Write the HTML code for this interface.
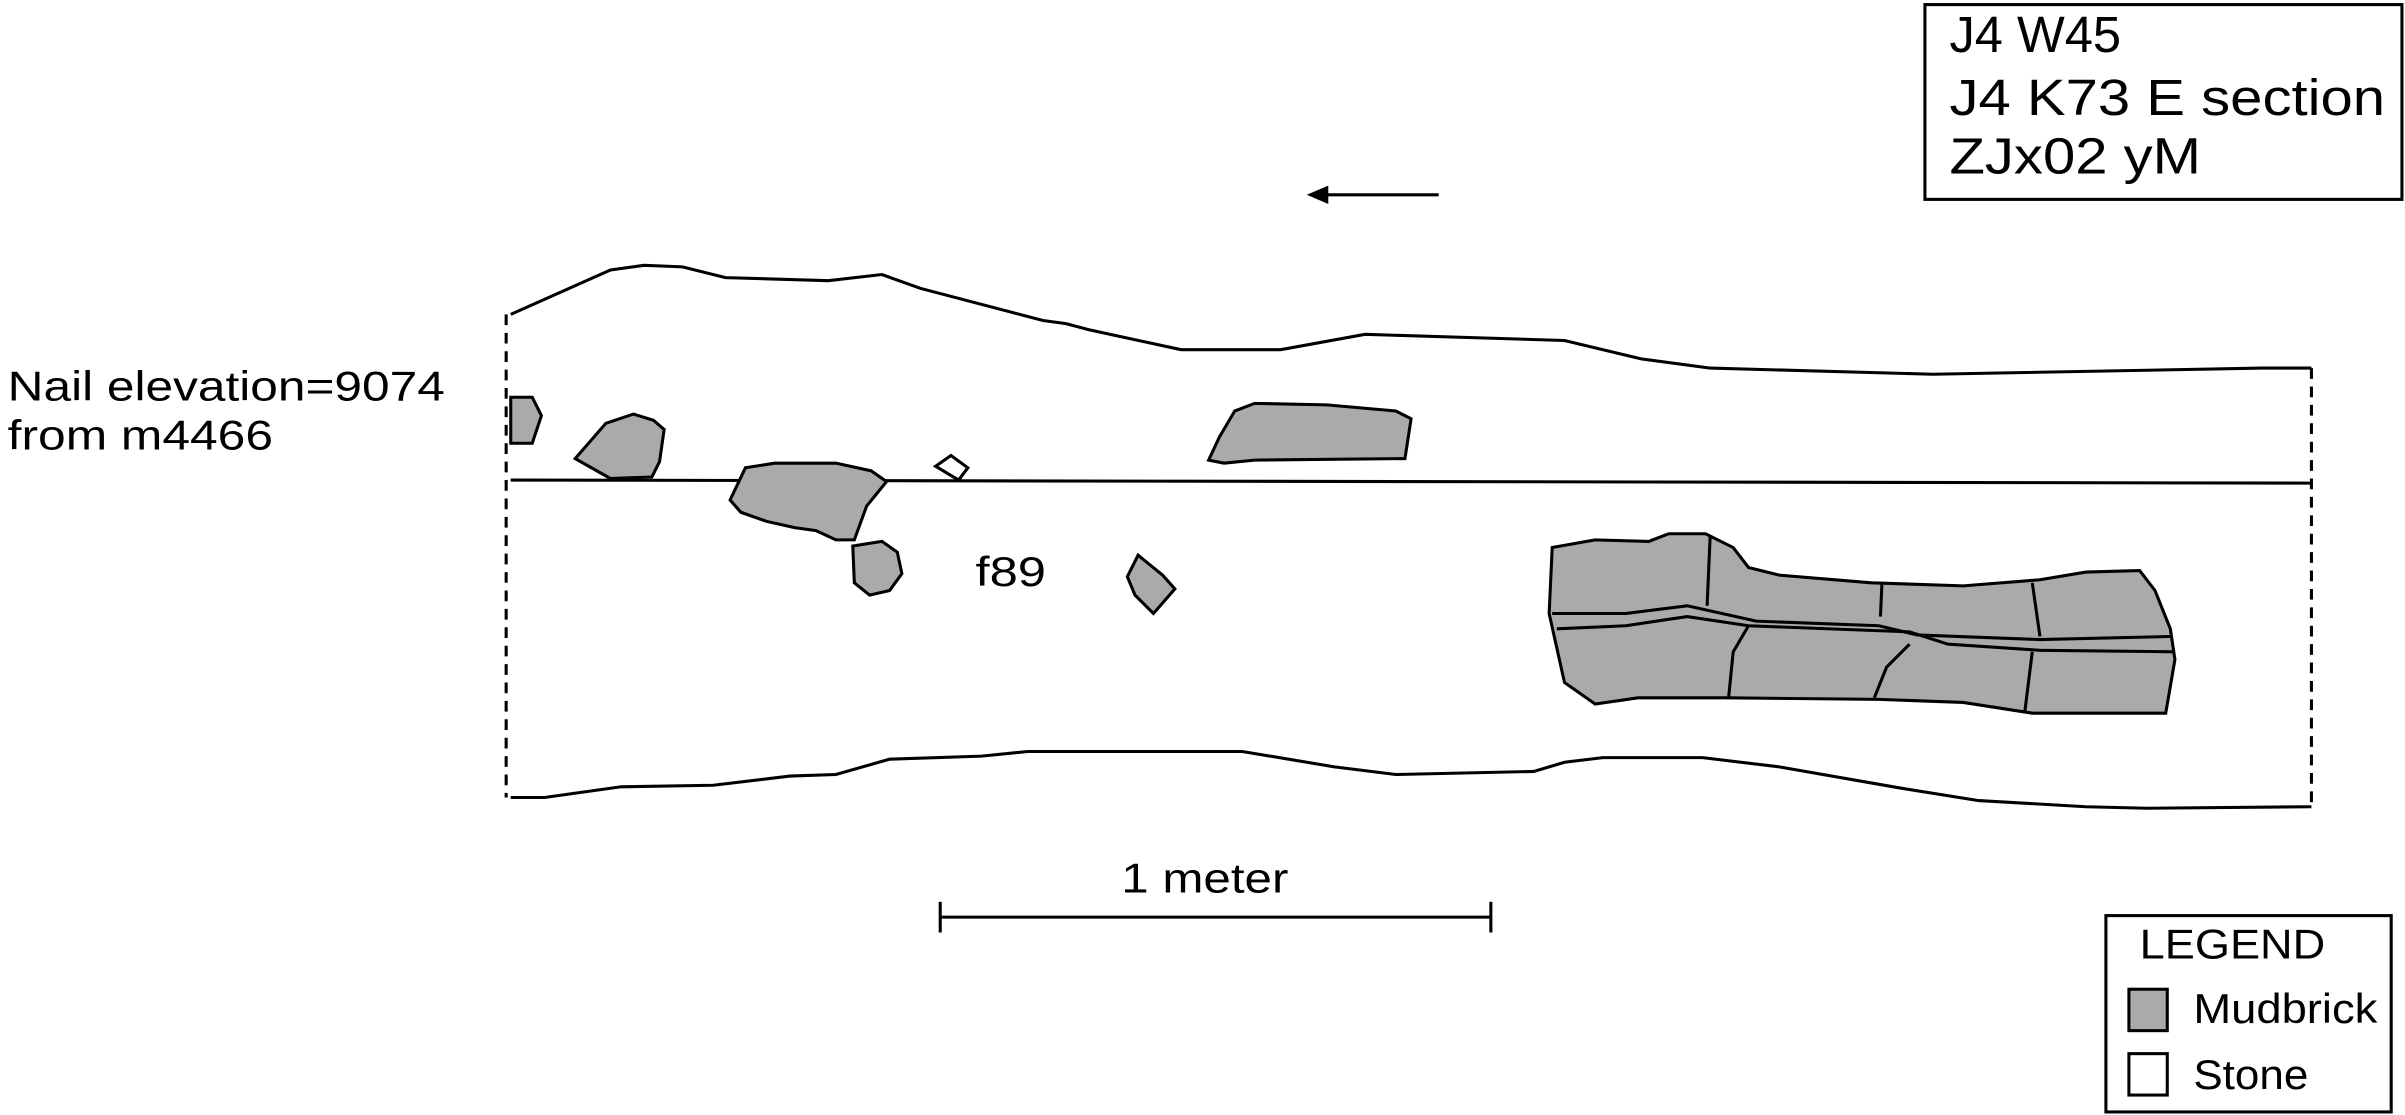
<!DOCTYPE html>
<html><head><style>html,body{margin:0;padding:0;background:#fff}svg{display:block}</style></head>
<body>
<svg width="2405" height="1115" viewBox="0 0 1568 727" preserveAspectRatio="none" xmlns="http://www.w3.org/2000/svg" font-family="Liberation Sans, sans-serif">
<g fill="none" stroke="#000" stroke-width="2">
<polyline points="333,205 398,176 420,173 445,174 473,181 540,183 575,179 600,188 680,209 695,211 710,215 770,228 835,228 890,218 1020,222 1070,234 1115,240 1260,244 1475,240 1507,240"/>
<polyline points="333,520 355,520 405,513 465,512 515,506 545,505 580,495 640,493 670,490 810,490 870,500 910,505 1000,503 1020,497 1045,494 1110,494 1160,500 1240,514 1290,522 1360,526 1400,527 1507,526"/>
<line x1="333" y1="313" x2="1507" y2="315"/>
<line x1="330" y1="205" x2="330" y2="520" stroke-dasharray="7,5"/>
<line x1="1507" y1="240" x2="1507" y2="526" stroke-dasharray="7,5"/>
</g>
<g fill="#aaa" stroke="#000" stroke-width="2">
<polygon points="333,259 347,259 353,271 347,289 333,289"/>
<polygon points="375,299 395,276 413,270 426,274 433,280 430,301 425,311 398,312"/>
<polygon points="476,326 486,305 505,302 545,302 568,307 578,314 565,330 557,352 545,352 532,346 518,344 500,340 483,334"/>
<polygon points="556,356 575,353 585,360 588,374 580,385 567,388 557,380"/>
<polygon points="735,376 742,362 758,375 766,384 752,400 740,388"/>
<polygon points="795,285 805,268 818,263 865,264 910,268 920,273 916,299 818,300 798,302 788,300"/>
<polygon points="1012,357 1040,352 1075,353 1088,348 1112,348 1130,357 1140,370 1160,375 1220,380 1280,382 1330,378 1360,373 1395,372 1405,385 1415,410 1418,430 1412,465 1325,465 1280,458 1225,456 1125,455 1068,455 1040,459 1020,445 1010,400"/>
</g>
<polygon points="610,304 620,297 631,305 625,313" fill="#fff" stroke="#000" stroke-width="2"/>
<g fill="none" stroke="#000" stroke-width="2">
<polyline points="1012,400 1060,400 1100,395 1145,405 1225,408 1250,414 1330,417 1415,415"/>
<polyline points="1015,410 1060,408 1100,402 1140,408 1245,412 1270,420 1330,424 1418,425"/>
<line x1="1115" y1="349" x2="1113" y2="395"/>
<polyline points="1127,455 1130,425 1140,408"/>
<line x1="1227" y1="380" x2="1226" y2="402"/>
<line x1="1325" y1="380" x2="1330" y2="415"/>
<polyline points="1222,455 1230,435 1245,420"/>
<line x1="1320" y1="465" x2="1325" y2="425"/>
<line x1="938" y1="127" x2="862" y2="127"/>
<line x1="613" y1="598" x2="972" y2="598"/>
<line x1="613" y1="588" x2="613" y2="608"/>
<line x1="972" y1="588" x2="972" y2="608"/>
<rect x="1255" y="3" width="311" height="127"/>
<rect x="1373" y="597" width="186" height="128"/>
</g>
<polygon points="852,127 866,121 866,133" fill="#000"/>
<g font-size="33" fill="#000">
<text x="1271" y="34">J4 W45</text>
<text x="1271" y="75" textLength="284" lengthAdjust="spacingAndGlyphs">J4 K73 E section</text>
<text x="1271" y="113" textLength="164" lengthAdjust="spacingAndGlyphs">ZJx02 yM</text>
</g>
<g font-size="27" fill="#000">
<text x="5" y="261" textLength="285" lengthAdjust="spacingAndGlyphs">Nail elevation=9074</text>
<text x="5" y="293" textLength="173" lengthAdjust="spacingAndGlyphs">from m4466</text>
<text x="636" y="382" textLength="46" lengthAdjust="spacingAndGlyphs">f89</text>
<text x="731" y="582" textLength="109" lengthAdjust="spacingAndGlyphs">1 meter</text>
<text x="1395" y="625" textLength="121" lengthAdjust="spacingAndGlyphs">LEGEND</text>
<text x="1430" y="667" textLength="120" lengthAdjust="spacingAndGlyphs">Mudbrick</text>
<text x="1430" y="710" textLength="75" lengthAdjust="spacingAndGlyphs">Stone</text>
</g>
<rect x="1388" y="645" width="25" height="27" fill="#aaa" stroke="#000" stroke-width="2"/>
<rect x="1388" y="687" width="25" height="27" fill="#fff" stroke="#000" stroke-width="2"/>
</svg>
</body></html>
